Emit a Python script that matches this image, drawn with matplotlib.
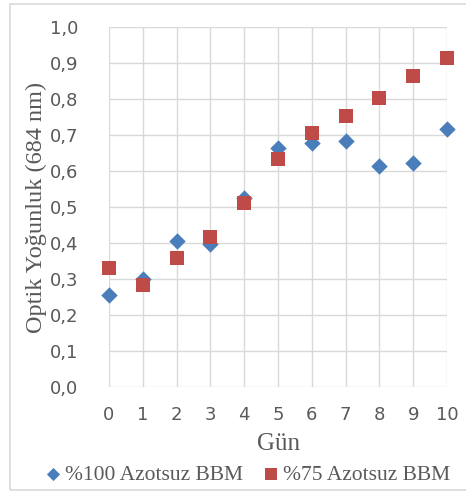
import matplotlib
matplotlib.use('Agg')
import matplotlib.pyplot as plt
from matplotlib.patches import Rectangle

gun = [0, 1, 2, 3, 4, 5, 6, 7, 8, 9, 10]
azot100 = [0.255, 0.300, 0.405, 0.397, 0.525, 0.663, 0.677, 0.682, 0.613, 0.623, 0.718]
azot75 = [0.330, 0.284, 0.357, 0.416, 0.511, 0.633, 0.706, 0.753, 0.803, 0.864, 0.913]
yticks = [0.0, 0.1, 0.2, 0.3, 0.4, 0.5, 0.6, 0.7, 0.8, 0.9, 1.0]
ylabels = ['0,0', '0,1', '0,2', '0,3', '0,4', '0,5', '0,6', '0,7', '0,8', '0,9', '1,0']

W, H = 466, 491
fig = plt.figure(figsize=(W/100, H/100), dpi=100)
fig.patches.append(Rectangle((10/W, 1/H), 1.2, (H-5)/H, transform=fig.transFigure,
                             fill=False, edgecolor='#d9d9d9', lw=1.2))
ax = fig.add_axes([109/W, 1-387/H, (447-109)/W, (387-27)/H])

ax.scatter(gun, azot100, marker='D', s=70, color='#4a7ebb', zorder=3, label='%100 Azotsuz BBM',
           linewidths=0, clip_on=False)
ax.scatter(gun, azot75, marker='s', s=110, color='#be4b48', zorder=3, label='%75 Azotsuz BBM',
           linewidths=0, clip_on=False)

ax.set_xlim(0, 10)
ax.set_ylim(0, 1.0)
ax.set_xticks(gun)
ax.set_yticks(yticks)
ax.set_yticklabels(ylabels)
ax.grid(True, color='#d9d9d9', lw=1)
ax.set_axisbelow(True)
for s in ax.spines.values():
    s.set_visible(False)
ax.tick_params(length=0, labelsize=13, labelcolor='#595959')
ax.tick_params(axis='x', pad=14)
ax.tick_params(axis='y', pad=22)

ax.set_xlabel('Gün', family='Liberation Serif', fontsize=18, color='#595959', labelpad=6)
ax.set_ylabel('Optik Yoğunluk (684 nm)', family='Liberation Serif', fontsize=17.5, color='#595959', labelpad=2)

leg = fig.legend(loc='center', bbox_to_anchor=(0.53, 1-475/H), ncol=2, frameon=False,
                 prop={'family': 'Liberation Serif', 'size': 15.5}, handletextpad=0.15,
                 handlelength=0.8, columnspacing=0.9, markerscale=0.8)
for t in leg.get_texts():
    t.set_color('#595959')

plt.savefig('out.png', dpi=100)
